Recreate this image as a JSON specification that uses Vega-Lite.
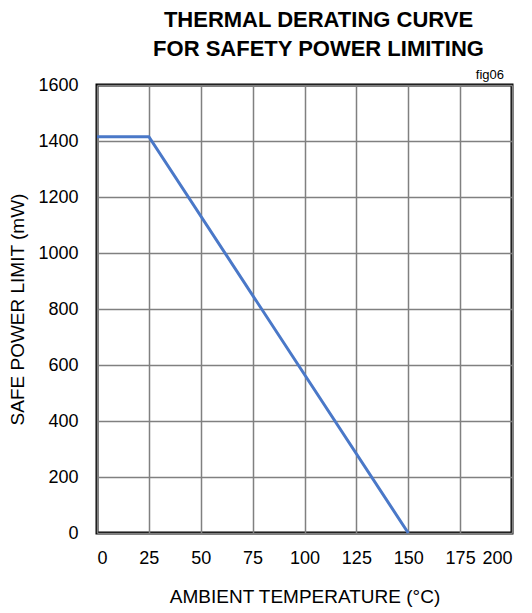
{
  "$schema": "https://vega.github.io/schema/vega-lite/v6.json",
  "width": 415,
  "height": 448,
  "autosize": "none",
  "padding": {"left": 97, "top": 85, "right": 20, "bottom": 80},
  "background": "white",
  "config": {
    "font": "Liberation Sans, Arial, sans-serif",
    "view": {"stroke": "black", "strokeWidth": 3},
    "axis": {
      "domain": false,
      "ticks": false,
      "grid": true,
      "gridColor": "#808080",
      "gridWidth": 1.5,
      "gridOpacity": 1,
      "labelFontSize": 18,
      "labelColor": "black",
      "titleFontSize": 19,
      "titleFontWeight": "normal",
      "titleColor": "black"
    }
  },
  "title": {
    "text": ["THERMAL DERATING CURVE", "FOR SAFETY POWER LIMITING"],
    "fontSize": 22,
    "fontWeight": "bold",
    "color": "black",
    "anchor": "middle",
    "dx": 14,
    "offset": 8,
    "lineHeight": 29
  },
  "data": {
    "values": [
      {"temp": 0, "power": 1415},
      {"temp": 25, "power": 1415},
      {"temp": 150, "power": 0}
    ]
  },
  "layer": [
    {
      "mark": {"type": "line", "color": "#4a78c8", "strokeWidth": 3},
      "encoding": {
        "x": {
          "field": "temp",
          "type": "quantitative",
          "scale": {"domain": [0, 200], "nice": false},
          "axis": {
            "values": [0, 25, 50, 75, 100, 125, 150, 175, 200],
            "format": "d",
            "title": "AMBIENT TEMPERATURE (°C)",
            "labelPadding": 16,
            "titlePadding": 20
          }
        },
        "y": {
          "field": "power",
          "type": "quantitative",
          "scale": {"domain": [0, 1600], "nice": false},
          "axis": {
            "values": [0, 200, 400, 600, 800, 1000, 1200, 1400, 1600],
            "format": "d",
            "title": "SAFE POWER LIMIT (mW)",
            "labelPadding": 19,
            "titlePadding": 10
          }
        }
      }
    },
    {
      "data": {"values": [{"temp": 200, "power": 1600, "label": "fig06"}]},
      "mark": {"type": "text", "align": "right", "baseline": "bottom", "dx": -8, "dy": -3, "fontSize": 13, "color": "black"},
      "encoding": {
        "x": {"field": "temp", "type": "quantitative"},
        "y": {"field": "power", "type": "quantitative"},
        "text": {"field": "label"}
      }
    }
  ]
}
